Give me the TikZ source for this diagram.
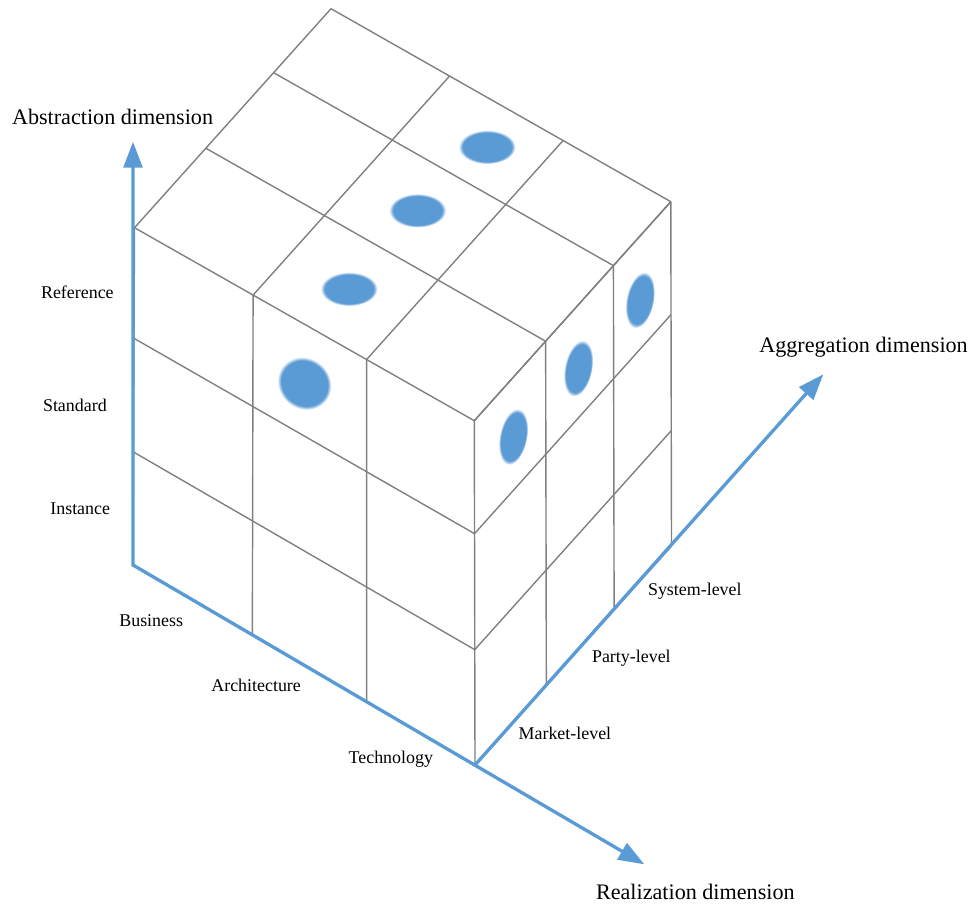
\documentclass[tikz,border=0pt]{standalone}
\usepackage{fontspec}
\setmainfont{Liberation Serif}
\usetikzlibrary{calc,arrows.meta}
\definecolor{axisblue}{RGB}{91,155,213}
\definecolor{gridgray}{RGB}{128,128,128}
% solid core that fades out to white at the rim
\pgfdeclareradialshading{blob}{\pgfpointorigin}{color(0bp)=(axisblue); color(21.5bp)=(axisblue); color(25bp)=(white); color(50bp)=(white)}
% \softdot{x}{y}{x radius}{y radius}{angle}
\newcommand\softdot[5]{%
  \begin{scope}[transform canvas={shift={(#1,#2)}, rotate=#5}]
    \shade[shading=blob] (0,0) ellipse [x radius=#3, y radius=#4];
  \end{scope}}

\begin{document}
\begin{tikzpicture}[x=0.02cm, y=-0.02cm,
  grid/.style={draw=gridgray, line width=0.8pt},
  axis/.style={draw=axisblue, line width=1.9pt, line join=miter},
  lab/.style={font=\fontsize{10.2pt}{12pt}\selectfont, inner sep=0pt, anchor=base west},
  title/.style={font=\fontsize{12.6pt}{15pt}\selectfont, inner sep=0pt, anchor=base west}]

\useasboundingbox (0,0) rectangle (971,904);

% corners of the front face
\coordinate (FBL) at (133,565);
\coordinate (FBR) at (475,765);
\coordinate (FTL) at (134.5,227.7);
\coordinate (FTR) at (474.3,420.7);

% front face grid points f<col><row>
\foreach \i/\colfr in {0/0,1/0.349,2/0.683,3/1}{
  \coordinate (b\i) at ($(FBL)!\colfr!(FBR)$);
  \coordinate (t\i) at ($(FTL)!\colfr!(FTR)$);
  \foreach \j/\rowfr in {0/0,1/0.335,2/0.672,3/1}{
    \coordinate (f\i\j) at ($(b\i)!\rowfr!(t\i)$);
  }
}
% top face points u<col><depth>, right face points r<row><depth>
\foreach \k/\depfr in {0/0,1/0.363,2/0.708,3/1}{
  \foreach \i in {0,...,3}{ \coordinate (u\i\k) at ($(t\i)+\depfr*(196.5,-219)$); }
  \foreach \j in {0,...,3}{ \coordinate (r\j\k) at ($(f3\j)+\depfr*(196.5,-219)$); }
}

% front face
\foreach \i in {0,...,3} \draw[grid] (f\i0) -- (f\i3);
\foreach \j in {0,...,3} \draw[grid] (f0\j) -- (f3\j);
% top face
\foreach \i in {0,...,3} \draw[grid] (u\i0) -- (u\i3);
\foreach \k in {1,2,3} \draw[grid] (u0\k) -- (u3\k);
% right face
\foreach \k in {1,2,3} \draw[grid] (r0\k) -- (r3\k);
\foreach \j in {0,...,3} \draw[grid] (r\j0) -- (r\j3);

% marked cells
\softdot{487}{147}{28.5}{17}{0}
\softdot{417.5}{210.5}{28.5}{17}{0}
\softdot{349}{289}{28.5}{17}{0}
\softdot{304.3}{383.3}{28}{25.5}{-40}
\softdot{513.3}{436.7}{14}{28.5}{-11}
\softdot{578.3}{368.3}{14}{28.5}{-11}
\softdot{640}{300}{14}{28.5}{-11}

% axes
\coordinate (Atip) at (133,141.7);
\coordinate (Rtip) at (644.3,864.3);
\coordinate (Gtip) at (823.3,374.3);
\draw[axis, {Triangle[length=14.7pt,width=10.6pt]}-{Triangle[length=14.7pt,width=10.6pt]}] (Atip) -- (FBL) -- (Rtip);
\draw[axis, -{Triangle[length=14.7pt,width=10.6pt]}] (FBR) -- (Gtip);

% axis titles
\node[title] (abstr) at (11.7,124.3) {Abstraction dimension};
\node[title] (aggr) at (759,352.3) {Aggregation dimension};
\node[title] (real) at (595.7,899) {Realization dimension};

% level labels
\node[lab] (lref) at (40.7,298.3) {Reference};
\node[lab] (lstd) at (42.7,411) {Standard};
\node[lab] (linst) at (50,514.3) {Instance};
\node[lab] (lbus) at (119,626) {Business};
\node[lab] (larch) at (211,691.7) {Architecture};
\node[lab] (ltech) at (348.3,763.3) {Technology};
\node[lab] (lmkt) at (518.3,739.3) {Market-level};
\node[lab] (lpty) at (591.7,662.7) {Party-level};
\node[lab] (lsys) at (647.7,595) {System-level};
\end{tikzpicture}
\end{document}
